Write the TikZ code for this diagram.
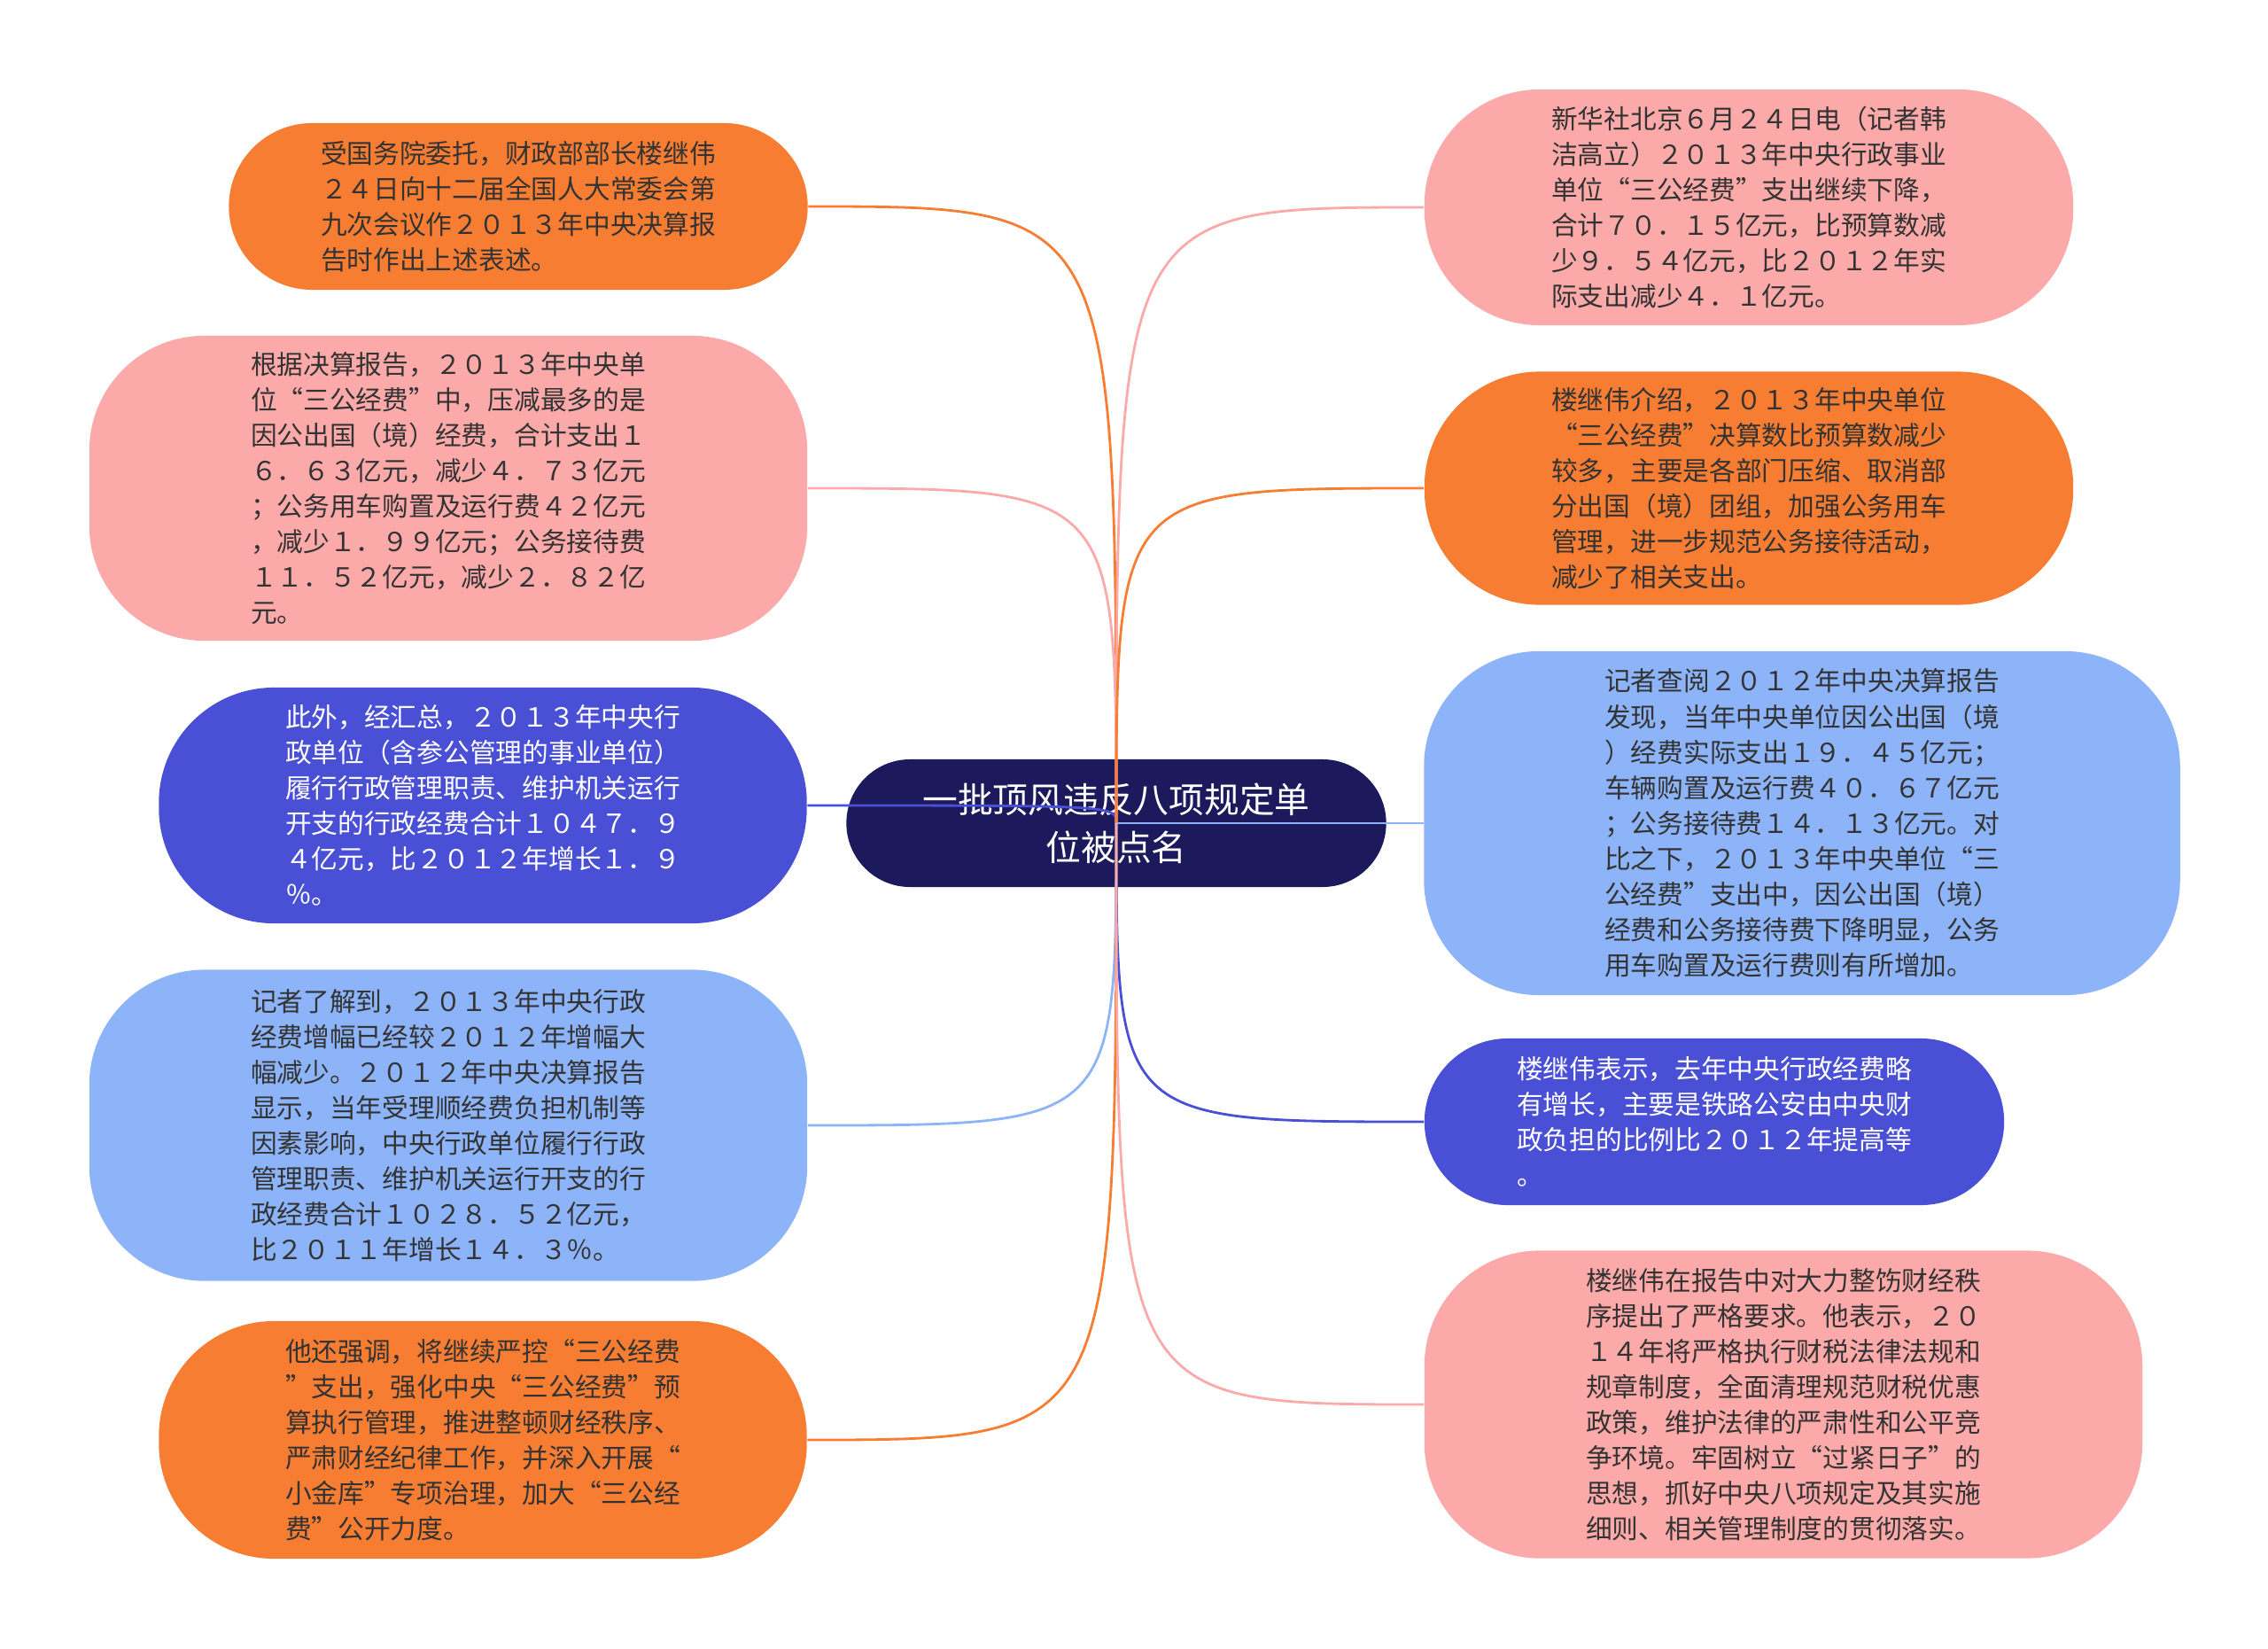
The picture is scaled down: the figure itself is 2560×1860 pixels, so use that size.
\documentclass[tikz,border=0pt]{standalone}
\usepackage{fontspec}
\setmainfont{Noto Sans CJK SC}
\definecolor{rootblue}{HTML}{1C1A5C}
\definecolor{orangebox}{HTML}{F67D32}
\definecolor{pinkbox}{HTML}{FCA9A9}
\definecolor{bluebox}{HTML}{4A50D6}
\definecolor{skybox}{HTML}{8DB4F8}
\definecolor{darktext}{HTML}{333333}
\tikzset{
  topic/.style={rectangle, rounded corners=1.3cm, align=left, text=darktext,
    font=\fontsize{8.45}{11.4}\selectfont},
  slim/.style={rounded corners=0.94cm},
  conn/.style={line width=0.8pt},
}
\begin{document}
\begin{tikzpicture}[x=0.01cm,y=-0.01cm]
        % page
        \useasboundingbox (0,0) rectangle (2560,1860);

        % centre
        \node[rectangle, rounded corners=0.72cm, fill=rootblue, text=white,
              minimum width=6.09cm, minimum height=1.44cm, align=center,
              font=\fontsize{11.3}{15.4}\selectfont] (root) at (1260,929)
              {一批顶风违反八项规定单\\位被点名};

        % left side
        \node[topic, slim, fill=orangebox, minimum width=6.53cm, minimum height=1.88cm] (budget) at (585,233)
              {受国务院委托，财政部部长楼继伟\\２４日向十二届全国人大常委会第\\九次会议作２０１３年中央决算报\\告时作出上述表述。};
        \node[topic, fill=pinkbox, minimum width=8.1cm, minimum height=3.44cm] (abroad) at (506,551)
              {根据决算报告，２０１３年中央单\\位“三公经费”中，压减最多的是\\因公出国（境）经费，合计支出１\\６．６３亿元，减少４．７３亿元\\；公务用车购置及运行费４２亿元\\，减少１．９９亿元；公务接待费\\１１．５２亿元，减少２．８２亿\\元。};
        \node[topic, fill=bluebox, text=white, minimum width=7.31cm, minimum height=2.66cm] (admin) at (545,909)
              {此外，经汇总，２０１３年中央行\\政单位（含参公管理的事业单位）\\履行行政管理职责、维护机关运行\\开支的行政经费合计１０４７．９\\４亿元，比２０１２年增长１．９\\％。};
        \node[topic, fill=skybox, minimum width=8.1cm, minimum height=3.51cm] (growth) at (506,1270)
              {记者了解到，２０１３年中央行政\\经费增幅已经较２０１２年增幅大\\幅减少。２０１２年中央决算报告\\显示，当年受理顺经费负担机制等\\因素影响，中央行政单位履行行政\\管理职责、维护机关运行开支的行\\政经费合计１０２８．５２亿元，\\比２０１１年增长１４．３％。};
        \node[topic, fill=orangebox, minimum width=7.31cm, minimum height=2.68cm] (control) at (545,1625)
              {他还强调，将继续严控“三公经费\\”支出，强化中央“三公经费”预\\算执行管理，推进整顿财经秩序、\\严肃财经纪律工作，并深入开展“\\小金库”专项治理，加大“三公经\\费”公开力度。};

        % right side
        \node[topic, fill=pinkbox, minimum width=7.32cm, minimum height=2.66cm] (news) at (1974,234)
              {新华社北京６月２４日电（记者韩\\洁高立）２０１３年中央行政事业\\单位“三公经费”支出继续下降，\\合计７０．１５亿元，比预算数减\\少９．５４亿元，比２０１２年实\\际支出减少４．１亿元。};
        \node[topic, fill=orangebox, minimum width=7.32cm, minimum height=2.63cm] (intro) at (1974,551)
              {楼继伟介绍，２０１３年中央单位\\“三公经费”决算数比预算数减少\\较多，主要是各部门压缩、取消部\\分出国（境）团组，加强公务用车\\管理，进一步规范公务接待活动，\\减少了相关支出。};
        \node[topic, fill=skybox, minimum width=8.53cm, minimum height=3.88cm] (report) at (2034,929)
              {记者查阅２０１２年中央决算报告\\发现，当年中央单位因公出国（境\\）经费实际支出１９．４５亿元；\\车辆购置及运行费４０．６７亿元\\；公务接待费１４．１３亿元。对\\比之下，２０１３年中央单位“三\\公经费”支出中，因公出国（境）\\经费和公务接待费下降明显，公务\\用车购置及运行费则有所增加。};
        \node[topic, slim, fill=bluebox, text=white, minimum width=6.54cm, minimum height=1.88cm] (police) at (1935,1266)
              {楼继伟表示，去年中央行政经费略\\有增长，主要是铁路公安由中央财\\政负担的比例比２０１２年提高等\\。};
        \node[topic, fill=pinkbox, minimum width=8.1cm, minimum height=3.47cm] (order) at (2013,1585)
              {楼继伟在报告中对大力整饬财经秩\\序提出了严格要求。他表示，２０\\１４年将严格执行财税法律法规和\\规章制度，全面清理规范财税优惠\\政策，维护法律的严肃性和公平竞\\争环境。牢固树立“过紧日子”的\\思想，抓好中央八项规定及其实施\\细则、相关管理制度的贯彻落实。};

        % connectors
        \draw[conn, orangebox] (root.center) .. controls (root.center |- budget.east) .. (budget.east);
        \draw[conn, pinkbox] (root.center) .. controls (root.center |- abroad.east) .. (abroad.east);
        \draw[conn, bluebox] (root.center) .. controls (root.center |- admin.east) .. (admin.east);
        \draw[conn, skybox] (root.center) .. controls (root.center |- growth.east) .. (growth.east);
        \draw[conn, orangebox] (root.center) .. controls (root.center |- control.east) .. (control.east);
        \draw[conn, pinkbox] (root.center) .. controls (root.center |- news.west) .. (news.west);
        \draw[conn, orangebox] (root.center) .. controls (root.center |- intro.west) .. (intro.west);
        \draw[conn, skybox] (root.center) .. controls (root.center |- report.west) .. (report.west);
        \draw[conn, bluebox] (root.center) .. controls (root.center |- police.west) .. (police.west);
        \draw[conn, pinkbox] (root.center) .. controls (root.center |- order.west) .. (order.west);
\end{tikzpicture}
\end{document}
